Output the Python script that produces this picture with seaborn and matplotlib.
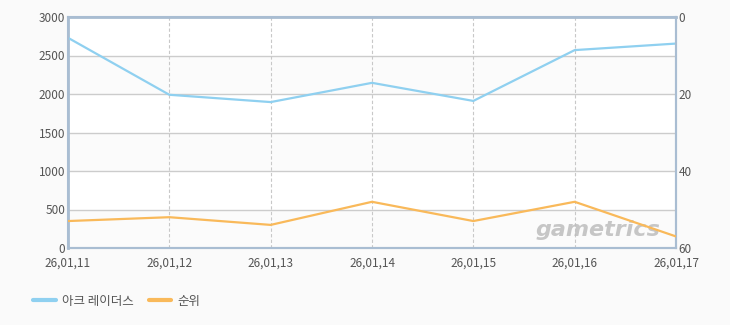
import matplotlib
matplotlib.use("Agg")
import matplotlib.pyplot as plt
import seaborn as sns
import pandas as pd
from matplotlib.lines import Line2D

dates = ["26,01,11", "26,01,12", "26,01,13", "26,01,14", "26,01,15", "26,01,16", "26,01,17"]
players = [2730, 1990, 1895, 2145, 1910, 2570, 2655]
rank = [53, 52, 54, 48, 53, 48, 57]
series_names = ["아크 레이더스", "순위"]

sns.set_theme(style="white")
plt.rcParams['font.family'] = ['Noto Sans CJK KR', 'DejaVu Sans']

blue = "#8fd0f0"
orange = "#f9b95a"
spine_c = "#a9bdd2"
text_c = "#555555"

df = pd.DataFrame({"x": range(len(dates)), "players": players, "rank": rank})

fig = plt.figure(figsize=(7.3, 3.25), dpi=100, facecolor="#fafafa")
ax = fig.add_axes([68/730, 1-248/325, (676-68)/730, (248-17)/325])
ax.set_facecolor("white")
for i, lo in enumerate(range(0, 3000, 500)):
    if i % 2 == 0:
        ax.axhspan(lo, lo + 500, color="#fbfbfb", zorder=0, lw=0)

sns.lineplot(data=df, x="x", y="players", ax=ax, color=blue, lw=1.6, zorder=3)
ax.set_xlim(0, len(dates) - 1)
ax.set_ylim(0, 3000)
ax.set_yticks(range(0, 3001, 500))
ax.set_xticks(range(len(dates)))
ax.set_xticklabels(dates)
ax.set_xlabel("")
ax.set_ylabel("")
for y in range(500, 3000, 500):
    ax.axhline(y, color="#cccccc", lw=1, zorder=1)
for x in range(1, len(dates) - 1):
    ax.axvline(x, color="#c8c8c8", lw=0.8, ls=(0, (3, 2)), zorder=1)

ax2 = ax.twinx()
sns.lineplot(data=df, x="x", y="rank", ax=ax2, color=orange, lw=1.6, zorder=3)
ax2.set_ylim(60, 0)
ax2.set_yticks([0, 20, 40, 60])
ax2.set_ylabel("")
ax2.set_xlim(0, len(dates) - 1)

for a in (ax, ax2):
    for s in a.spines.values():
        s.set_color(spine_c)
        s.set_linewidth(1.5)
    a.tick_params(axis="both", length=0, labelsize=8.5, labelcolor=text_c, pad=2)
ax.tick_params(axis="x", pad=6)
ax.spines["left"].set_linewidth(2)
ax.spines["top"].set_linewidth(2)

ax2.text(0.975, 0.035, "gametrics", transform=ax.transAxes, ha="right", va="bottom",
         fontsize=16, fontweight="bold", style="italic", color="#bdbdbd", alpha=0.85,
         family="DejaVu Sans", zorder=2)

handles = [Line2D([], [], color=blue, lw=3), Line2D([], [], color=orange, lw=3)]
fig.legend(handles, series_names, loc="lower left", bbox_to_anchor=(22/730, 6/325),
           ncol=2, frameon=False, fontsize=9, labelcolor=text_c,
           handlelength=1.8, handletextpad=0.5, columnspacing=1.2)

fig.savefig("out.png", dpi=100, facecolor=fig.get_facecolor())
